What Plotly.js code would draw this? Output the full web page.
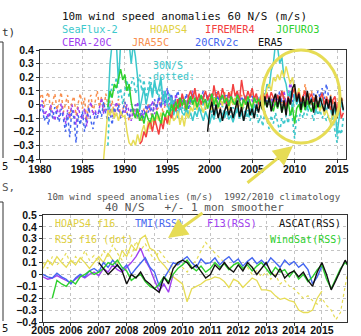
<!DOCTYPE html>
<html><head><meta charset="utf-8">
<script src="https://cdn.plot.ly/plotly-3.0.1.min.js"></script>
<style>html,body{margin:0;padding:0;background:#fff}#chart{width:361px;height:336px}</style>
</head><body><div id="chart"></div>
<script>
// ---------- TOP PANEL (quarterly anomalies, m/s) ----------
const jra55cStart = 1980.0;
const jra55c = [0.05,0.08,-0.02,0.06, 0.09,-0.05,0.02,0.08, -0.04,0.03,0.09,-0.06, 0.0,0.07,-0.1,0.02,
  0.06,-0.08,0.01,0.08, -0.03,0.05,-0.12,0.03, 0.07,-0.06,0.02,0.1, -0.02,0.06,-0.05,0.08,
  0.0,-0.05,0.03,-0.08, -0.02,0.04,-0.1,-0.03, 0.02,-0.06,-0.12,-0.04, -0.08,0.0,-0.1,-0.05,
  -0.12,-0.03,-0.08,0.0, -0.06,-0.1,0.02,-0.04, -0.02,0.05,-0.07,0.0, 0.03,-0.05,0.06,-0.02,
  0.04,-0.08,0.02,0.06, -0.03,0.05,0.08,0.0, 0.06,0.1,-0.02,0.04, 0.0,0.07,-0.04,0.05,
  0.03,-0.02,0.08,0.01, 0.06,-0.03,0.05,0.09, -0.01,0.04,0.1,0.02, 0.05,-0.04,0.03,0.07,
  0.0,0.06,-0.02,0.04, 0.08,0.01,0.05,-0.03, 0.04,0.07,0.0,0.09, 0.02,0.05,-0.02,0.06,
  0.03,0.08,0.0,0.1, -0.04,0.05,0.02,0.07, 0.12,0.04,0.1,0.0, 0.06,0.15,0.03,0.08,
  0.1,0.02,0.07,0.04, 0.05,0.09,-0.01,0.06, 0.02,0.07,0.0,0.05, 0.03,-0.02,0.06,0.01];

const cera20cStart = 1980.0;
const cera20c = [-0.02,0.03,-0.08,-0.05, -0.1,0.0,-0.06,-0.12, -0.03,-0.09,0.01,-0.07, -0.14,-0.04,-0.1,0.0,
  -0.06,-0.15,-0.02,-0.08, -0.11,-0.03,-0.16,-0.05, 0.02,-0.08,-0.04,-0.1, -0.01,0.05,-0.07,-0.02,
  -0.06,0.0,-0.09,-0.03, 0.02,-0.05,-0.1,-0.04, -0.07,0.0,-0.05,-0.12, -0.03,-0.08,0.02,-0.06,
  -0.1,-0.04,-0.08,0.0, -0.05,0.03,-0.07,-0.02, 0.05,-0.03,0.08,-0.01, 0.1,0.0,0.06,-0.04,
  0.08,0.02,-0.05,0.04, 0.0,0.06,-0.03,0.05, 0.1,0.02,0.05,-0.02, 0.04,0.08,0.0,0.06,
  0.02,0.09,0.03,-0.02, 0.05,0.0,0.07,0.02, -0.03,0.04,0.08,0.01, 0.03,0.06,-0.02,0.05,
  0.0,0.04,0.02,0.07, 0.03,-0.01,0.05,0.02, 0.06,0.0,0.04,0.08, 0.02,0.05,-0.01,0.04,
  0.07,0.01,0.05,0.1, 0.0,0.04,0.18,0.06, 0.05];

const cr20v2cStart = 1980.0;
const cr20v2c = [-0.05,0.0,-0.12,-0.08, -0.15,-0.04,-0.1,-0.02, -0.08,-0.13,-0.03,-0.1, -0.2,-0.06,-0.24,-0.04,
  -0.1,-0.28,-0.08,-0.15, -0.05,-0.2,-0.1,-0.02, -0.12,-0.18,-0.06,-0.1, -0.03,-0.09,0.02,-0.07,
  -0.12,-0.05,-0.15,-0.02, -0.08,0.0,-0.1,-0.05, 0.02,-0.06,-0.1,-0.03, -0.05,0.0,-0.08,-0.12,
  -0.04,-0.1,0.0,-0.06, 0.0,-0.08,0.04,-0.03, 0.06,-0.02,0.1,0.0, 0.12,0.03,0.08,-0.02,
  0.05,0.1,0.0,0.06, 0.02,0.08,-0.04,0.04, 0.09,0.01,0.06,0.0, 0.05,0.1,0.02,0.07,
  0.0,0.06,0.04,0.09, 0.03,0.07,-0.01,0.05, 0.08,0.02,0.06,0.0, 0.04,0.09,0.01,0.06,
  0.02,0.07,0.0,0.05, 0.06,0.02,0.08,0.03, 0.0,0.05,0.09,0.02, 0.06,0.01,0.04,0.07,
  0.03,0.1,0.02,0.06, 0.0,0.05,0.08,0.02, 0.1,0.03,0.06,0.0, 0.05,0.09,0.02,0.06,
  0.04,0.08,0.02,0.1, 0.05,0.12,0.04,0.15, 0.06];

const seaflux30Start = 1988.0;   // cyan dotted, 30N/S
const seaflux30 = [-0.3,0.05,0.15,0.1, 0.2,0.05,0.12,0.0, 0.1,0.18,0.05,0.15, 0.2,0.08,0.14,0.22,
  0.1,0.18,0.05,0.12, 0.2,0.08,0.15,0.1, 0.05,0.16,0.0,0.1, -0.02,0.08,-0.05,0.03,
  0.0,-0.06,0.04,-0.02, -0.05,0.02,-0.08,0.0, 0.03,-0.04,0.05,-0.02, -0.06,0.01,-0.03,0.04,
  -0.02,-0.07,0.0,-0.04, 0.02,-0.05,-0.01,-0.08, -0.03,0.0,-0.06,-0.02, -0.08,-0.03,-0.1,-0.05,
  -0.02,-0.09,-0.04,-0.12, -0.06,-0.1,-0.03,-0.14, -0.08,-0.16,-0.05,-0.12, -0.18,-0.08,-0.14,-0.06,
  -0.12,-0.2,-0.1,-0.15, -0.08,-0.14,-0.05,-0.1, -0.25,-0.08,-0.12,-0.04, -0.1,-0.03,-0.08,0.0,
  -0.06,-0.12,-0.02,-0.08, -0.04,-0.1,-0.06,-0.12, -0.08,-0.15,-0.1,-0.2, -0.28,-0.18,-0.22,-0.1];

const seafluxStart = 1988.0;
const seaflux = [-0.05,0.3,0.45,0.45, 0.45,0.15,0.45,0.45, 0.45,0.4,0.45,0.3, 0.45,0.35,0.2,-0.04,
  0.05,0.12,0.0,0.08, 0.15,0.05,0.18,0.08, 0.12,0.2,0.02,0.1, 0.0,-0.05,0.05,-0.08,
  -0.02,-0.1,0.0,-0.06, -0.08,-0.03,-0.1,-0.06, -0.12,-0.05,-0.09,-0.02, -0.08,-0.12,-0.05,-0.1,
  -0.14,-0.07,-0.11,-0.04, -0.09,-0.13,-0.06,-0.1, -0.05,-0.11,-0.08,-0.13, -0.07,-0.02,-0.1,-0.06,
  -0.12,-0.05,-0.09,-0.03, -0.08,0.0,-0.04,0.05, 0.02,0.1,0.05,0.15, 0.12,0.25,0.3,0.45,
  0.42,0.3,0.35,0.2, 0.15,0.05,0.1,-0.05, 0.08,0.0,0.05,-0.03, 0.06,0.02,-0.04,0.05,
  0.0,0.04,-0.06,0.02, -0.03,0.05,0.0,-0.05, 0.02,-0.04,-0.1,0.0, -0.22,-0.1,0.02,-0.05];

const hoaps4Start = 1987.5;
const hoaps4 = [-0.4,-0.2, -0.04,-0.08,-0.03,-0.1, -0.06,-0.12,-0.05,-0.09, -0.08,-0.2,-0.28,-0.3,
  -0.26,-0.3,-0.22,-0.28, -0.2,-0.15,-0.22,-0.12, -0.18,-0.1,-0.15,-0.08, -0.12,-0.06,-0.14,-0.1,
  -0.08,-0.15,-0.05,-0.12, -0.1,-0.05,-0.15,-0.08, -0.16,-0.06,-0.1,-0.02, -0.05,0.02,-0.04,0.03,
  -0.02,-0.06,0.01,-0.03, 0.02,-0.04,0.05,0.0, -0.03,0.04,-0.01,0.06, 0.01,-0.04,0.03,0.0,
  0.05,-0.02,0.02,-0.05, 0.0,0.04,-0.03,0.02, -0.02,0.03,0.06,0.02, 0.05,0.1,0.04,0.12,
  0.15,0.1,0.2,0.17, 0.22,0.18,0.25,0.2, 0.28,0.22,0.15,0.2, 0.1,0.05,0.12,0.02,
  0.06,0.0,0.08,0.03, 0.0,0.05,-0.03,0.02, -0.05,0.0,-0.08,-0.04, -0.1,-0.14,-0.06,-0.1];

const ifremer4Start = 1991.75;
const ifremer4 = [-0.29, -0.27,-0.2,-0.24,-0.16, -0.12,-0.2,-0.1,-0.16, -0.22,-0.12,-0.18,-0.08, -0.14,-0.06,-0.1,0.0,
  -0.05,0.04,-0.02,0.08, 0.02,-0.04,0.06,0.1, 0.04,0.12,0.02,0.08, 0.0,0.06,0.1,0.03,
  0.08,0.02,0.14,0.05, 0.1,0.03,0.12,0.06, 0.0,0.09,0.04,0.15, 0.06,0.1,0.02,0.18,
  0.08,0.03,0.1,0.05, 0.12,0.04,0.08,0.0, 0.06,0.1,0.02,0.08, 0.03,0.09,0.05,0.0,
  0.07,0.02,0.1,0.04, -0.02,0.06,0.0,0.08, 0.12,0.04,0.09,0.02, 0.06,0.1,0.0,0.05,
  0.08,0.02,0.06,-0.02, 0.04,0.08,0.0,0.05, 0.02,-0.04,0.03,0.06, -0.05,0.02,-0.1,-0.06];

const jofuro3Start = 1988.0;
const jofuro3 = [-0.02,0.1,0.05,0.15, 0.12,0.2,0.26,0.18, 0.22,0.1,0.15,0.02, -0.06,-0.1,-0.03,-0.12,
  -0.08,-0.14,-0.06,-0.11, -0.13,-0.07,-0.12,-0.05, -0.1,-0.14,-0.06,-0.09, -0.04,-0.08,0.0,-0.05,
  0.02,-0.03,0.05,-0.01, 0.04,-0.04,0.02,0.06, 0.0,0.05,-0.02,0.03, 0.07,0.01,0.04,-0.03,
  0.03,0.08,0.0,0.05, -0.02,0.04,0.07,0.01, 0.05,-0.01,0.06,0.02, 0.0,0.07,0.03,-0.02,
  0.04,0.0,0.06,0.02, -0.03,0.05,0.01,0.04, 0.0,-0.04,0.03,-0.02, 0.05,0.0,-0.05,0.02,
  -0.03,0.04,-0.06,0.0, -0.04,0.02,-0.08,-0.02, -0.14,-0.03,0.0,-0.06, 0.02,-0.04,0.03,-0.02,
  -0.05,0.01,-0.03,0.02, -0.02];

const era5Start = 1999.75;
const era5 = [-0.2, -0.05,0.02,-0.08,0.0, -0.1,-0.03,-0.12,-0.05, 0.0,-0.08,-0.02,-0.1, -0.04,0.03,-0.09,-0.02,
  -0.12,-0.05,0.02,-0.08, -0.03,-0.1,0.0,-0.06, 0.02,-0.04,0.06,-0.02, 0.05,-0.05,0.03,0.08,
  -0.02,0.06,-0.06,0.03, -0.08,0.05,0.0,0.12, 0.15,0.02,0.08,-0.04, 0.06,-0.02,0.1,0.0,
  0.04,-0.06,0.07,-0.02, 0.05,0.0,-0.05,0.04, -0.03,0.06,-0.08,0.02, -0.1,0.0,0.05,-0.04];

// ---------- BOTTOM PANEL (2-monthly, 40N/S, smoothed) ----------
const tmiStart = 2005.0;
const tmi = [0.0,-0.02,-0.03,0.01,-0.02,-0.04, -0.08,-0.03,0.0,-0.02,0.03,0.05, 0.02,0.1,0.06,0.12,0.07,0.04,
  0.08,0.0,0.05,0.1,0.14,0.06, 0.02,-0.1,-0.04,0.03,0.1,0.08, 0.12,0.15,0.1,0.06,0.13,0.09,
  0.1,0.14,0.08,0.12,0.15,0.1, 0.13,0.07,0.11,0.14,0.09,0.12, 0.08,0.14,0.1,0.06,0.12,0.08,
  0.11,0.06,0.09,0.04,-0.08,-0.02, 0.07];

const f13Start = 2005.0;
const f13 = [-0.02,-0.04,-0.03,-0.01,-0.03,-0.05, -0.07,-0.04,-0.01,-0.03,0.0,0.02, -0.01,0.05,0.02,0.08,0.04,0.02,
  0.06,0.1,0.15,0.22,0.12,0.05, -0.05,-0.14,-0.08,-0.15,0.0];

const ascatStart = 2007.0;
const ascat = [0.1,0.05,0.0,0.04,0.08,0.03, -0.08,0.0,-0.03,0.02,-0.05,-0.08, -0.12,-0.15,-0.02,-0.08,0.05,0.1,
  0.12,0.1,0.05,0.08,0.02,-0.03, 0.0,0.08,0.04,0.1,0.05,0.02, 0.08,0.03,0.1,0.06,0.0,0.05,
  0.1,0.02,-0.02,0.05,-0.03,0.01, 0.03,-0.02,0.02,-0.05,-0.1,0.02, 0.1,0.0,-0.13,-0.05,0.03,0.12, 0.05];

const windsatStart = 2005.333;
const windsat = [-0.2,-0.05,-0.08,-0.1, -0.05,-0.08,-0.02,0.0,0.03,0.0, 0.02,0.05,0.1,0.08,0.12,0.06,
  0.03,-0.05,-0.02,0.0,-0.06,-0.1, -0.12,-0.08,-0.02,-0.06,0.0,0.05, 0.08,0.12,0.06,0.03,0.07,0.02,
  0.05,0.1,0.06,0.09,0.04,0.08, 0.1,0.05,0.08,0.03,0.07,0.1, 0.05,0.0,0.06,0.02,0.04,-0.02,
  0.03,-0.04,0.0,-0.06,-0.02,0.04, 0.08,-0.04,-0.12,-0.03,0.05,0.1, 0.06];

const hoapsF16Start = 2005.0;
const hoapsF16 = [0.05,0.12,0.08,0.15,0.1,0.06, 0.12,0.08,0.14,0.1,0.05,0.1, 0.15,0.1,0.18,0.12,0.08,0.2,
  0.15,0.25,0.2,0.3,0.33,0.22, 0.2,0.12,0.08,0.03,-0.02,-0.05, -0.08,-0.23,-0.12,-0.1,-0.08,-0.05,
  -0.04,-0.02,-0.03,-0.06,-0.11,-0.04, -0.06,-0.11,-0.07,-0.03,-0.05,-0.13, -0.13,-0.14,-0.18,-0.21,-0.2,-0.22,
  -0.23,-0.3,-0.32,-0.32,-0.3,-0.2, -0.14];

const rssF16Start = 2005.0;
const rssF16 = [0.1,0.05,0.15,0.08,0.12,0.18, 0.08,0.15,0.1,0.2,0.12,0.16, 0.1,0.2,0.15,0.25,0.18,0.12,
  0.22,0.15,0.28,0.2,0.26,0.18, 0.12,0.2,0.15,0.1,0.05,0.1, 0.06,0.02,0.08,0.12,0.2,0.27,
  0.22,0.18,0.14,0.1,0.05,0.08, 0.1,0.04,0.06,0.0,0.03,-0.02, 0.02,-0.04,0.0,-0.08,-0.05,-0.1,
  -0.12,-0.16,-0.2,-0.18,-0.22,-0.25, -0.2,-0.26,-0.3,-0.38,-0.32,-0.1, 0.1];

const topYears = [1980,1985,1990,1995,2000,2005,2010,2015];
const botYears = [2005,2006,2007,2008,2009,2010,2011,2012,2013,2014,2015];

// ---------- styling ----------
const W = 361, H = 336;
const MONO = 'DejaVu Sans Mono, monospace';
const TICKF = {family: 'Liberation Sans Narrow, Liberation Sans, Arial, sans-serif', size: 10.5, color: '#111', weight: 'bold'};
const CYAN = '#3cc8cc', YEL = '#e6dc55', RED = '#f24040', GRN = '#2ed02e', PUR = '#a040f0', ORA = '#f89050', BLU = '#4466f0', BLK = '#111';

function xs(start, n, step) { const a = []; for (let i = 0; i < n; i++) a.push(start + i * step); return a; }
function tr(start, vals, step, color, dash, xa, ya, w) {
  return {x: xs(start, vals.length, step), y: vals, type: 'scatter', mode: 'lines', xaxis: xa, yaxis: ya,
    line: {color: color, width: w || 1.4, dash: dash || 'solid'}, hoverinfo: 'skip'};
}
const q = 0.25, b = 1 / 6;
const data = [
  tr(jra55cStart, jra55c, q, ORA, 'dot', 'x', 'y', 1.5),
  tr(cera20cStart, cera20c, q, PUR, 'dot', 'x', 'y', 1.5),
  tr(cr20v2cStart, cr20v2c, q, BLU, 'dot', 'x', 'y', 1.5),
  tr(seaflux30Start, seaflux30, q, CYAN, 'dot', 'x', 'y', 1.6),
  tr(seafluxStart, seaflux, q, CYAN, 'solid', 'x', 'y', 1.5),
  tr(hoaps4Start, hoaps4, q, YEL, 'solid', 'x', 'y', 1.5),
  tr(ifremer4Start, ifremer4, q, RED, 'solid', 'x', 'y', 1.5),
  tr(jofuro3Start, jofuro3, q, GRN, 'solid', 'x', 'y', 1.5),
  tr(era5Start, era5, q, BLK, 'solid', 'x', 'y', 1.5),
  tr(rssF16Start, rssF16, b, YEL, 'dot', 'x2', 'y2', 1.2),
  tr(hoapsF16Start, hoapsF16, b, YEL, 'solid', 'x2', 'y2', 1.3),
  tr(f13Start, f13, b, PUR, 'solid', 'x2', 'y2', 1.4),
  tr(tmiStart, tmi, b, BLU, 'solid', 'x2', 'y2', 1.4),
  tr(windsatStart, windsat, b, GRN, 'solid', 'x2', 'y2', 1.4),
  tr(ascatStart, ascat, b, BLK, 'solid', 'x2', 'y2', 1.4)
];

const px = v => v / W, py = v => 1 - v / H;
function ax(extra) {
  return Object.assign({showline: true, mirror: true, linecolor: '#333', linewidth: 1, ticks: 'outside', ticklen: 3,
    tickcolor: '#333', showgrid: true, gridcolor: '#c4c4c4', griddash: 'dot', gridwidth: 1, zeroline: false,
    tickfont: TICKF, fixedrange: true}, extra);
}
function txt(t, x, y, color, size, anchor) {
  return {text: t, xref: 'paper', yref: 'paper', x: px(x), y: py(y), xanchor: anchor || 'left', yanchor: 'middle',
    showarrow: false, font: {family: MONO, size: size, color: color}};
}
const layout = {
  width: W, height: H, margin: {l: 0, r: 0, t: 0, b: 0}, showlegend: false,
  paper_bgcolor: '#fff', plot_bgcolor: '#fff',
  xaxis: ax({domain: [px(40), px(346)], range: [1980, 2016.06], tickvals: topYears, ticktext: topYears.map(String), anchor: 'y', ticklabelstandoff: -3}),
  yaxis: ax({domain: [py(159), py(50)], range: [-0.4, 0.4], dtick: 0.1, tick0: 0, anchor: 'x'}),
  xaxis2: ax({domain: [px(43), px(347)], range: [2005, 2015.9], tickvals: botYears, ticktext: botYears.map(String), anchor: 'y2', ticklabelstandoff: -5}),
  yaxis2: ax({domain: [py(322), py(215)], range: [-0.4, 0.5], dtick: 0.1, tick0: 0, anchor: 'x2'}),
  shapes: [
    {type: 'circle', xref: 'paper', yref: 'paper', x0: px(262), x1: px(340), y0: py(143), y1: py(50), line: {color: YEL, width: 3}},
    {type: 'line', xref: 'paper', yref: 'paper', x0: px(3), x1: px(3), y0: py(42), y1: py(158), line: {color: '#333', width: 1}},
    {type: 'line', xref: 'paper', yref: 'paper', x0: 0, x1: px(3), y0: py(42), y1: py(42), line: {color: '#333', width: 1}},
    {type: 'line', xref: 'paper', yref: 'paper', x0: px(3), x1: px(3), y0: py(202), y1: py(321), line: {color: '#333', width: 1}},
    {type: 'line', xref: 'paper', yref: 'paper', x0: 0, x1: px(3), y0: py(202), y1: py(202), line: {color: '#333', width: 1}}
  ],
  annotations: [
    txt('10m wind speed anomalies 60 N/S (m/s)', 60, 16, '#111', 11),
    txt('SeaFlux-2', 60, 29, CYAN, 10.3), txt('HOAPS4', 148, 29, '#e0d040', 10.3),
    txt('IFREMER4', 203, 29, RED, 10.3), txt('JOFURO3', 274, 29, GRN, 10.3),
    txt('CERA-20C', 60, 42, PUR, 10.3), txt('JRA55C', 130, 42, ORA, 10.3),
    txt('20CRv2c', 193, 42, BLU, 10.3), txt('ERA5', 256, 42, BLK, 10.3),
    txt('30N/S', 151, 66, CYAN, 10), txt('dotted:', 151, 77, CYAN, 10),
    txt('10m wind speed anomalies (m/s)  1992/2010 climatology', 45, 196, '#555', 9.2),
    txt('40 N/S   +/- 1 mon smoother', 103, 207, '#555', 11),
    txt('HOAPS4 f16', 53, 223, '#e0d040', 10), txt('TMI(RSS)', 133, 223, BLU, 10),
    txt('F13(RSS)', 205, 223, PUR, 10.3), txt('ASCAT(RSS)', 277, 223, BLK, 10.3),
    txt('RSS f16 (dot)', 53, 239, '#e0d040', 10), txt('WindSat(RSS)', 268, 239, GRN, 10),
    txt('t)', 0, 33, '#333', 11), txt('5', 0, 166, '#111', 10.5), txt('S,', 0, 187, '#555', 11), txt('5', 0, 328, '#111', 10.5),
    {x: px(293), y: py(146), xref: 'paper', yref: 'paper', text: '', showarrow: true, ax: -47, ay: 38,
      arrowhead: 2, arrowsize: 1.3, arrowwidth: 3, arrowcolor: YEL},
    {x: px(168), y: py(238), xref: 'paper', yref: 'paper', text: '', showarrow: true, ax: 36, ay: -26,
      arrowhead: 2, arrowsize: 1.3, arrowwidth: 3, arrowcolor: YEL}
  ]
};
Plotly.newPlot('chart', data, layout, {staticPlot: true, displayModeBar: false});
</script></body></html>
